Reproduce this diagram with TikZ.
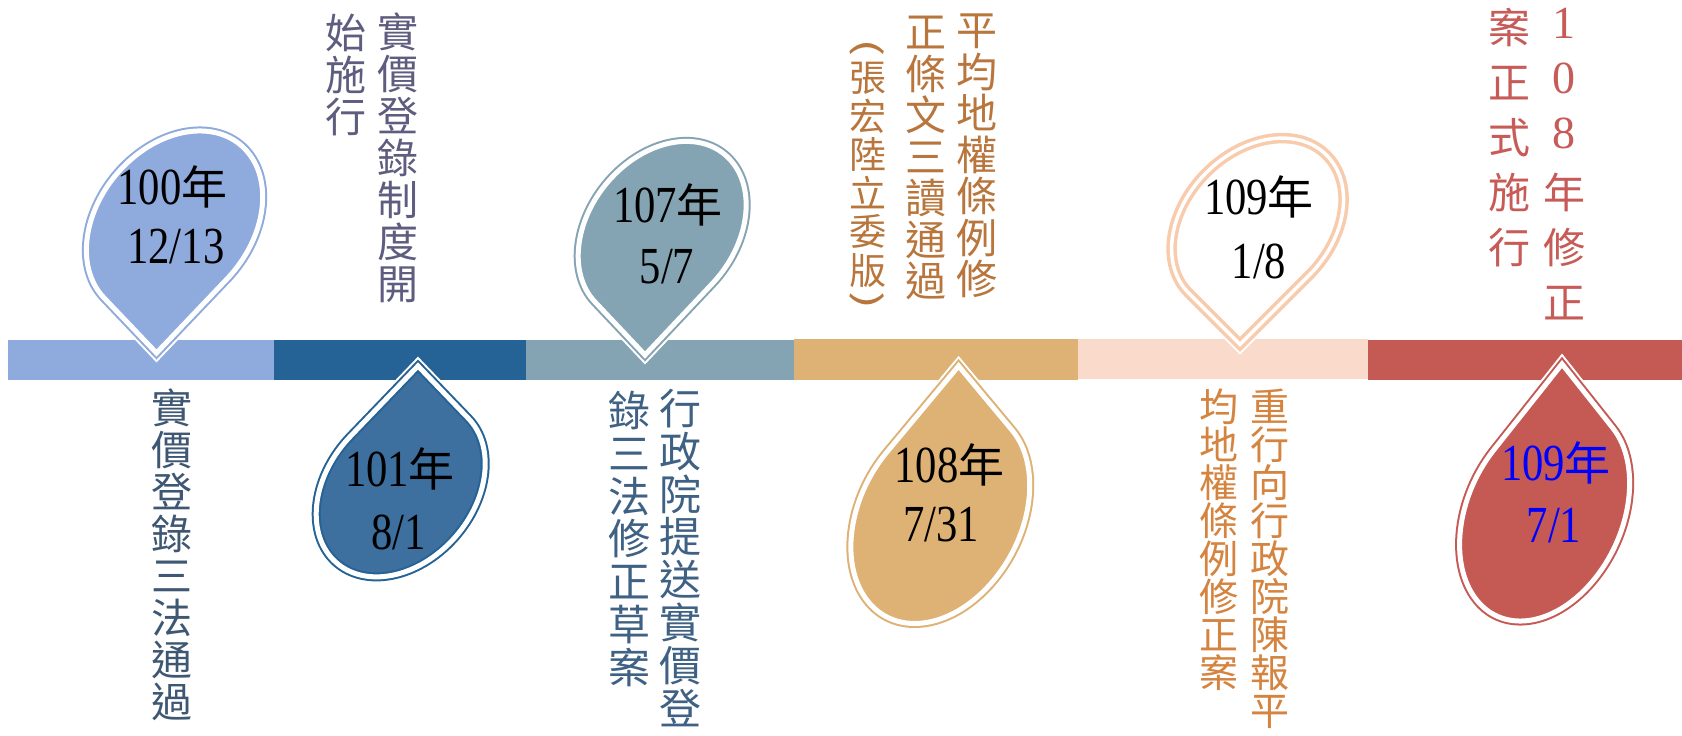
\documentclass[tikz,border=0pt]{standalone}
\usepackage{fontspec}
\usepackage{graphicx}
\setmainfont{Liberation Serif}
\newfontfamily\cjk{Noto Sans CJK TC}
\newfontfamily\dnum[FakeStretch=0.82]{Liberation Serif}
\newcommand\nian{{\cjk\fontsize{46}{58}\selectfont 年}}
\newcommand\fdig[1]{\raisebox{5pt}{\fontsize{46}{55}\selectfont\rmfamily #1}}
\newcommand\vpar[1]{\rotatebox{-90}{\scalebox{1.6}[1]{#1}}}
\definecolor{sA}{HTML}{8FAADC}
\definecolor{sB}{HTML}{256295}
\definecolor{sBf}{HTML}{3D6F9F}
\definecolor{sC}{HTML}{84A4B4}
\definecolor{sD}{HTML}{DEB174}
\definecolor{sE}{HTML}{F9DACB}
\definecolor{sEl}{HTML}{F8CBAD}
\definecolor{sF}{HTML}{C55A55}
\definecolor{tA}{HTML}{3E5772}
\definecolor{tB}{HTML}{5E5D80}
\definecolor{tC}{HTML}{3E6184}
\definecolor{tD}{HTML}{B8763C}
\definecolor{tE}{HTML}{D5843F}
\definecolor{tF}{HTML}{C65B57}
\tikzset{
  dA/.style={line width=2pt,double=white,double distance=5pt},
  dB/.style={line width=3.5pt,double=white,double distance=3.5pt},
  vt/.style={font=\cjk\fontsize{41}{42}\selectfont,align=center,inner sep=0pt,anchor=north},
  dt/.style={font=\dnum\fontsize{52}{58}\selectfont,inner sep=0pt,anchor=base},
  vparen/.style={text=tD,font=\cjk\fontsize{34}{38}\selectfont,inner sep=0pt},
}
% tipx, tipy, rotation, scale, vertical stretch, fill, line colour, line style, halo width
\newcommand\tdrop[9]{%
  \begin{scope}[shift={(#1,#2)},yscale=#5,rotate=#3,scale=#4,shift={(-98,-73)}]
    \draw[white,line width=#9] (0,73) -- (98,73) -- (98,0)
      arc[start angle=0,end angle=-270,x radius=98,y radius=73] -- cycle;
    \draw[fill=#6,draw=#7,#8] (0,73) -- (98,73) -- (98,0)
      arc[start angle=0,end angle=-270,x radius=98,y radius=73] -- cycle;
  \end{scope}}
\begin{document}
\begin{tikzpicture}[x=1pt,y=1pt]
\useasboundingbox (0,0) rectangle (1682,736);
\fill[white] (0,0) rectangle (1682,736);
% timeline bar
\fill[sA] (8,355.5) rectangle (274,396);
\fill[sB] (274,355.5) rectangle (526,396);
\fill[sC] (526,355.5) rectangle (794,396);
\fill[sD] (794,355.5) rectangle (1078,397);
\fill[sE] (1078,356.5) rectangle (1368,397);
\fill[sF] (1368,355.5) rectangle (1682,396);
% drops
\tdrop{156.5}{383}{-135}{1.02}{1.05}{sA}{sA}{dA}{13pt}
\tdrop{418}{370}{45}{0.978}{1.04}{sBf}{sB}{dA}{13pt}
\tdrop{645}{381}{-135}{0.972}{1.06}{sC}{sC}{dA}{13pt}
\tdrop{958.6}{370}{45}{1.035}{1.2}{sD}{sD}{dA}{13pt}
\tdrop{1240}{391.6}{-135}{0.995}{1.0}{white}{sEl}{dB}{14.5pt}
\tdrop{1562}{372}{45}{0.984}{1.26}{sF}{sF}{dA}{13pt}
% drop texts
\node[dt] (n100a) at (172.5,531) {100\nian};
\node[dt] (n100b) at (175.8,472.7) {12/13};
\node[dt] (n101a) at (400,249.3) {101\nian};
\node[dt] (n101b) at (398.5,186) {8/1};
\node[dt] (n107a) at (668,513) {107\nian};
\node[dt] (n107b) at (667,452) {5/7};
\node[dt] (n108a) at (949.5,253) {108\nian};
\node[dt] (n108b) at (941,194) {7/31};
\node[dt] (n109a) at (1259,521) {109\nian};
\node[dt] (n109b) at (1259,457.7) {1/8};
\node[dt,text=blue] (n109c) at (1556,255) {109\nian};
\node[dt,text=blue] (n109d) at (1554,193) {7/1};
% vertical texts
\node[vt,text=tA] (tA1) at (171.7,347) {實\\價\\登\\錄\\三\\法\\通\\過};
\node[vt,text=tB] (tB1) at (397.5,723) {實\\價\\登\\錄\\制\\度\\開};
\node[vt,text=tB] (tB2) at (346,722) {始\\施\\行};
\node[vt,text=tC,font=\cjk\fontsize{42}{42.8}\selectfont] (tC1) at (680,347) {行\\政\\院\\提\\送\\實\\價\\登};
\node[vt,text=tC,font=\cjk\fontsize{42}{42.8}\selectfont] (tC2) at (629,345) {錄\\三\\法\\修\\正\\草\\案};
\node[vt,text=tD,font=\cjk\fontsize{41}{41.5}\selectfont] (tD1) at (976.7,722) {平\\均\\地\\權\\條\\例\\修};
\node[vt,text=tD,font=\cjk\fontsize{41}{41.5}\selectfont] (tD2) at (926,720) {正\\條\\文\\三\\讀\\通\\過};
\node[vt,text=tD,font=\cjk\fontsize{37}{38.5}\selectfont] (tD3) at (867.5,674) {張\\宏\\陸\\立\\委\\版};
\node[vparen] (tD4) at (867.5,688) {\vpar{(}};
\node[vparen] (tD5) at (867.5,435) {\vpar{)}};
\node[vt,text=tE,font=\cjk\fontsize{39}{38}\selectfont] (tE1) at (1270,347) {重\\行\\向\\行\\政\\院\\陳\\報\\平};
\node[vt,text=tE,font=\cjk\fontsize{39}{38}\selectfont] (tE2) at (1219,347) {均\\地\\權\\條\\例\\修\\正\\案};
\node[vt,text=tF,font=\cjk\fontsize{42}{55}\selectfont] (tF1) at (1564,728) {\fdig{1}\\\fdig{0}\\\fdig{8}\\年\\修\\正};
\node[vt,text=tF,font=\cjk\fontsize{42}{55}\selectfont] (tF2) at (1509,728) {案\\正\\式\\施\\行};
\end{tikzpicture}
\end{document}
